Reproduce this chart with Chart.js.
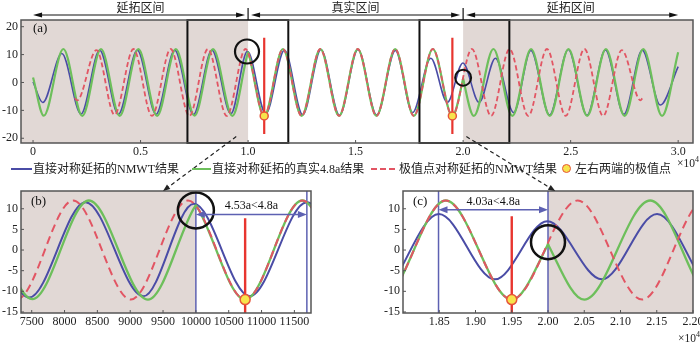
<!DOCTYPE html>
<html>
<head>
<meta charset="utf-8">
<script src="https://cdn.jsdelivr.net/npm/chart.js@4.4.1/dist/chart.umd.min.js"></script>
<style>
  html, body { margin: 0; padding: 0; background: #fff; }
  #wrap { position: relative; width: 700px; height: 346px; overflow: hidden;
          font-family: 'Liberation Serif', 'Noto Sans CJK SC', serif; color: #222; }
  #wrap canvas { position: absolute; left: 0; top: 0; }
  .lg { position: absolute; top: 161px; height: 16px; line-height: 16px; font-size: 12px; white-space: nowrap; }
  .sw { position: absolute; top: 168px; height: 2px; }
  .dot { position: absolute; top: 164px; left: 562px; width: 7px; height: 7px; border-radius: 50%;
         background: #f7e44c; border: 1.5px solid #e6533a; }
  .mult { position: absolute; font-size: 11.5px; line-height: 14px; white-space: nowrap; }
  .mult sup { font-size: 8px; vertical-align: 5px; line-height: 0; }
</style>
</head>
<body>
<div id="wrap">
  <canvas id="ca" width="700" height="346"></canvas>
  <canvas id="cb" width="700" height="346"></canvas>
  <canvas id="cc" width="700" height="346"></canvas>

  <div class="sw" style="left:11px;width:21px;background:#4a4ca6"></div>
  <div class="lg" style="left:33px">直接对称延拓的NMWT结果</div>
  <div class="sw" style="left:192px;width:19px;background:#6dbf5b"></div>
  <div class="lg" style="left:212px">直接对称延拓的真实4.8a结果</div>
  <div class="sw" style="left:371px;width:24px;background:repeating-linear-gradient(90deg,#e25563 0 6px,transparent 6px 9px)"></div>
  <div class="lg" style="left:399px">极值点对称延拓的NMWT结果</div>
  <div class="dot"></div>
  <div class="lg" style="left:575px">左右两端的极值点</div>

  <div class="mult" style="left:677px;top:156px">×10<sup>4</sup></div>
  <div class="mult" style="left:678px;top:331px">×10<sup>4</sup></div>
</div>

<script>
// ---- series (x in samples, y in amplitude) ----
// NMWT result of the directly mirrored signal
const blueX = [0, 450, 1340, 2230, 3100, 3970, 4850, 5720, 6590, 7460, 8320, 9200, 9970,
  10820, 11690, 12540, 13390, 14250, 15110, 15980, 16850, 17650, 18495, 19267, 19990,
  20743, 21504, 22350, 23150, 24020, 24890, 25760, 26620, 27480, 28330, 29170, 30000];
const blueY = [0.2, -7.2, 10.4, -11.3, 11.6, -11.4, 11.6, -11.4, 11.6, -11.5, 11.6, -11.2, 11.2,
  -11.2, 11.6, -11.6, 11.8, -11.8, 11.8, -11.7, 11.5, -10.8, 8.7, -7.1, 7.0,
  -7.1, 8.7, -10.8, 11.5, -11.7, 11.8, -11.8, 11.7, -11.4, 11.6, -8.1, 5.7];

// true 4.8a component, directly mirrored at both ends of the record
const greenX = [0, 500, 1410, 2290, 3160, 4030, 4900, 5770, 6640, 7510, 8370, 9270,
  9988, 10000, 10012, 10750, 11620, 12490, 13360, 14230, 15100, 15970, 16840, 17710, 18590, 19500,
  19988, 20000, 20012, 20500, 21410, 22290, 23160, 24030, 24900, 25770, 26640, 27510, 28380, 29250, 30000];
const greenY = [1.8, -11.9, 12, -12, 12, -12, 12, -12, 12, -11.9, 12, -12,
  10.6, 10.8, 10.6, -12, 12, -12, 12, -12, 12, -12, 12, -12, 12, -12,
  1.0, 1.5, 1.0, -12, 12, -12, 12, -12, 12, -12, 12, -12, 12, -12, 10.8];

// NMWT result of the signal mirrored about its end extrema
const redX = [1940, 2050, 2950, 3790, 4670, 5530, 6400, 7270, 8130, 9010, 9880,
  10750, 11620, 12490, 13360, 14230, 15100, 15970, 16840, 17710, 18590, 19500,
  20410, 21300, 22160, 23030, 23900, 24770, 25640, 26510, 27380, 28250, 28340];
const redY = [-5.6, -6.4, 11.6, -11.6, 12, -12, 12, -12, 12, -12, 12,
  -12, 12, -12, 12, -12, 12, -12, 12, -12, 12, -12,
  12, -12, 12, -12, 12, -12, 12, -12, 11.6, -6.4, -5.6];

// extrema at the left and right ends of the real interval
const extremaX = [10750, 19500];
const extremaY = [-12, -12];

// ---- axis ticks ----
const ticksA = [0, 5000, 10000, 15000, 20000, 25000, 30000];
const tickLabelsA = ['0', '0.5', '1.0', '1.5', '2.0', '2.5', '3.0'];
const ticksB = [7500, 8000, 8500, 9000, 9500, 10000, 10500, 11000, 11500];
const tickLabelsB = ['7500', '8000', '8500', '9000', '9500', '10000', '10500', '11000', '11500'];
const ticksC = [18500, 19000, 19500, 20000, 20500, 21000, 21500, 22000];
const tickLabelsC = ['1.85', '1.90', '1.95', '2.00', '2.05', '2.10', '2.15', '2.20'];
const yTicksA = [-20, -10, 0, 10, 20];
const yTicksBC = [-15, -10, -5, 0, 5, 10];

// interval annotation above panel (a)
const intervalEdges = [0, 10000, 20000, 30000];
const intervalNames = ['延拓区间', '真实区间', '延拓区间'];

// measured spans between the end extremum and the mirror point
const spanB = [10000, 11690];
const spanTextB = '4.53a<4.8a';
const spanC = [18490, 20000];
const spanTextC = '4.03a<4.8a';

// ---- styles ----
const SHADE = '#e1d8d5';
const C_BLUE = '#4a4ca6';
const C_GREEN = '#6dbf5b';
const C_RED = '#e25563';
const C_MARK = '#e8352f';
const C_GUIDE = '#5d61b2';
const FRAME = '#555';

Chart.defaults.font.family = "'Liberation Serif', 'Noto Sans CJK SC', serif";
Chart.defaults.font.size = 12;
Chart.defaults.color = '#222';

const panels = [
  { name: 'a', id: 'ca', xMin: -560, xMax: 30690, yMin: -21.7, yMax: 22.4,
    padding: { left: 0, right: 7, top: 20, bottom: 183 }, yWidth: 21,
    xTicks: ticksA, xLabels: tickLabelsA, yTicks: yTicksA,
    shade: [[null, 10000], [20000, null]],
    widths: { blue: 1.6, green: 2.2, red: 1.8, mark: 2.2 }, dash: [5, 3],
    markTop: 16, markBottom: -18.5, dotR: 4,
    circles: [[9950, 11.1, 12, 2.2], [20000, 1.7, 8, 2]],
    boxes: [[7180, 11870], [17970, 22150]],
    tag: '(a)', tagOff: [12, 9] },
  { name: 'b', id: 'cb', xMin: 7337, xMax: 11753, yMin: -15.25, yMax: 14.3,
    padding: { left: 0, right: 389, top: 191, bottom: 13 }, yWidth: 21,
    xTicks: ticksB, xLabels: tickLabelsB, yTicks: yTicksBC,
    shade: [[null, 10000]],
    widths: { blue: 2, green: 2.3, red: 2, mark: 2.4 }, dash: [8, 5],
    markTop: 7.7, markBottom: -17, dotR: 5,
    circles: [[10000, 9.6, 18, 2.5]],
    span: spanB, spanText: spanTextB, arrowY: 8.6, textY: 10.6,
    link: { from: [9450, -19.4], to: 9500 },
    tag: '(b)', tagOff: [10, 11] },
  { name: 'c', id: 'cc', xMin: 18000, xMax: 22000, yMin: -15.25, yMax: 14.3,
    padding: { left: 363, right: 7, top: 191, bottom: 13 }, yWidth: 40,
    xTicks: ticksC, xLabels: tickLabelsC, yTicks: yTicksBC,
    shade: [[20000, null]],
    widths: { blue: 2, green: 2.3, red: 2, mark: 2.4 }, dash: [8, 5],
    markTop: 8.2, markBottom: -17, dotR: 5,
    circles: [[20000, 1.9, 17, 2.5]],
    span: spanC, spanText: spanTextC, arrowY: 9.75, textY: 11.6,
    link: { from: [20150, -19.4], to: 20100 },
    tag: '(c)', tagOff: [10, 11] }
];

function pts(xs, ys) { return xs.map((x, i) => ({ x: x, y: ys[i] })); }

function buildDatasets(p) {
  const markers = [];
  extremaX.forEach(x => { markers.push({ x: x, y: p.markTop }, { x: x, y: p.markBottom }, { x: x, y: null }); });
  const curve = { pointRadius: 0, cubicInterpolationMode: 'monotone', fill: false };
  return [
    { label: '左右两端的极值点', data: pts(extremaX, extremaY), showLine: false,
      pointRadius: p.dotR, pointBackgroundColor: '#f7e44c', pointBorderColor: '#e6533a',
      pointBorderWidth: 1.5, order: 0 },
    { label: 'extrema', data: markers, borderColor: C_MARK, borderWidth: p.widths.mark,
      pointRadius: 0, tension: 0, spanGaps: false, order: 1 },
    Object.assign({ label: '极值点对称延拓的NMWT结果', data: pts(redX, redY), borderColor: C_RED,
      borderWidth: p.widths.red, borderDash: p.dash, order: 2 }, curve),
    Object.assign({ label: '直接对称延拓的真实4.8a结果', data: pts(greenX, greenY), borderColor: C_GREEN,
      borderWidth: p.widths.green, order: 3 }, curve),
    Object.assign({ label: '直接对称延拓的NMWT结果', data: pts(blueX, blueY), borderColor: C_BLUE,
      borderWidth: p.widths.blue, order: 4 }, curve)
  ];
}

function arrowHead(ctx, tx, ty, dx, dy, len, half) {
  const nx = -dy, ny = dx;
  ctx.beginPath();
  ctx.moveTo(tx, ty);
  ctx.lineTo(tx - dx * len + nx * half, ty - dy * len + ny * half);
  ctx.lineTo(tx - dx * len - nx * half, ty - dy * len - ny * half);
  ctx.closePath();
  ctx.fill();
}

function seg(ctx, x0, y0, x1, y1) {
  ctx.beginPath(); ctx.moveTo(x0, y0); ctx.lineTo(x1, y1); ctx.stroke();
}

let chartA = null;

function panelPlugin(p) {
  return {
    id: 'panel_' + p.name,
    beforeDatasetsDraw(chart) {
      const { ctx, chartArea: a, scales: { x, y } } = chart;
      ctx.save();
      ctx.fillStyle = SHADE;
      p.shade.forEach(([s, e]) => {
        const x0 = s === null ? a.left : x.getPixelForValue(s);
        const x1 = e === null ? a.right : x.getPixelForValue(e);
        ctx.fillRect(x0, a.top, x1 - x0, a.bottom - a.top);
      });
      if (p.span) {
        ctx.strokeStyle = C_GUIDE;
        ctx.lineWidth = 1.5;
        p.span.forEach(v => { const px = x.getPixelForValue(v); seg(ctx, px, a.top, px, a.bottom); });
      }
      ctx.restore();
    },
    afterDatasetsDraw(chart) {
      const { ctx, chartArea: a, scales: { x, y } } = chart;
      ctx.save();
      // zoom boxes
      if (p.boxes) {
        ctx.strokeStyle = '#111';
        ctx.lineWidth = 2;
        p.boxes.forEach(([s, e]) => {
          const x0 = x.getPixelForValue(s), x1 = x.getPixelForValue(e);
          ctx.strokeRect(x0, a.top, x1 - x0, a.bottom - a.top);
        });
      }
      // highlight rings
      ctx.strokeStyle = '#111';
      p.circles.forEach(([cx, cy, r, w]) => {
        ctx.lineWidth = w;
        ctx.beginPath();
        ctx.arc(x.getPixelForValue(cx), y.getPixelForValue(cy), r, 0, Math.PI * 2);
        ctx.stroke();
      });
      // span arrow with label
      if (p.span) {
        const x0 = x.getPixelForValue(p.span[0]), x1 = x.getPixelForValue(p.span[1]);
        const yy = y.getPixelForValue(p.arrowY);
        ctx.strokeStyle = C_GUIDE; ctx.fillStyle = C_GUIDE; ctx.lineWidth = 1.5;
        seg(ctx, x0 + 6, yy, x1 - 6, yy);
        arrowHead(ctx, x0, yy, -1, 0, 9, 3.5);
        arrowHead(ctx, x1, yy, 1, 0, 9, 3.5);
        ctx.fillStyle = '#111';
        ctx.font = "12px 'Liberation Serif', serif";
        ctx.textAlign = 'center'; ctx.textBaseline = 'middle';
        ctx.fillText(p.spanText, (x0 + x1) / 2, y.getPixelForValue(p.textY));
      }
      // frame
      ctx.strokeStyle = FRAME; ctx.lineWidth = 1.5;
      ctx.strokeRect(a.left, a.top, a.right - a.left, a.bottom - a.top);
      // inward tick marks
      ctx.lineWidth = 1;
      x.ticks.forEach(t => { const px = x.getPixelForValue(t.value); seg(ctx, px, a.bottom, px, a.bottom - 3); });
      y.ticks.forEach(t => { const py = y.getPixelForValue(t.value); seg(ctx, a.left, py, a.left + 3, py); });
      // panel tag
      ctx.fillStyle = '#111';
      ctx.font = "13px 'Liberation Serif', serif";
      ctx.textAlign = 'left'; ctx.textBaseline = 'middle';
      ctx.fillText(p.tag, a.left + p.tagOff[0], a.top + p.tagOff[1]);
      ctx.restore();
    },
    afterDraw(chart) {
      const { ctx, chartArea: a, scales: { x } } = chart;
      ctx.save();
      if (p.name === 'a') {
        // extension / real interval arrows across the top
        const px = intervalEdges.map(v => x.getPixelForValue(v));
        const ay = 15;
        ctx.strokeStyle = '#111'; ctx.fillStyle = '#111'; ctx.lineWidth = 1;
        for (let i = 0; i < intervalNames.length; i++) {
          const l = i === 0 ? px[i] : px[i] + 3;
          const r = i === intervalNames.length - 1 ? px[i + 1] : px[i + 1] - 3;
          seg(ctx, l + 4, ay, r - 4, ay);
          arrowHead(ctx, l, ay, -1, 0, 9, 2.6);
          arrowHead(ctx, r, ay, 1, 0, 9, 2.6);
          ctx.font = "12px 'Noto Sans CJK SC', sans-serif";
          ctx.textAlign = 'center'; ctx.textBaseline = 'middle';
          ctx.fillStyle = '#222';
          ctx.fillText(intervalNames[i], (px[i] + px[i + 1]) / 2, 7);
          ctx.fillStyle = '#111';
        }
        ctx.lineWidth = 1.2;
        [px[1], px[2]].forEach(v => seg(ctx, v, 8, v, a.top));
      }
      if (p.link && chartA) {
        // dashed pointer from the box in (a) to this panel
        const sx = chartA.scales.x.getPixelForValue(p.link.from[0]);
        const sy = chartA.scales.y.getPixelForValue(p.link.from[1]);
        const ex = x.getPixelForValue(p.link.to), ey = a.top;
        const len = Math.hypot(ex - sx, ey - sy), ux = (ex - sx) / len, uy = (ey - sy) / len;
        ctx.strokeStyle = '#222'; ctx.fillStyle = '#222'; ctx.lineWidth = 1.2;
        ctx.setLineDash([4, 3]);
        seg(ctx, sx, sy, ex - ux * 6, ey - uy * 6);
        ctx.setLineDash([]);
        arrowHead(ctx, ex, ey, ux, uy, 7, 2.8);
      }
      ctx.restore();
    }
  };
}

function makeChart(p) {
  return new Chart(document.getElementById(p.id), {
    type: 'line',
    data: { datasets: buildDatasets(p) },
    options: {
      responsive: false,
      animation: false,
      devicePixelRatio: 1,
      events: [],
      layout: { padding: p.padding },
      plugins: { legend: { display: false }, tooltip: { enabled: false } },
      scales: {
        x: {
          type: 'linear', min: p.xMin, max: p.xMax,
          grid: { display: false, drawTicks: false }, border: { display: false },
          ticks: { padding: 2, maxRotation: 0, minRotation: 0, autoSkip: false,
                   callback: (v, i) => p.xLabels[i] },
          afterBuildTicks: s => { s.ticks = p.xTicks.map(v => ({ value: v })); },
          afterFit: s => { s.height = 20; s.paddingLeft = 0; s.paddingRight = 0; }
        },
        y: {
          type: 'linear', min: p.yMin, max: p.yMax,
          grid: { display: false, drawTicks: false }, border: { display: false },
          ticks: { padding: 3, autoSkip: false, callback: v => String(v) },
          afterBuildTicks: s => { s.ticks = p.yTicks.map(v => ({ value: v })); },
          afterFit: s => { s.width = p.yWidth; s.paddingTop = 0; s.paddingBottom = 0; }
        }
      }
    },
    plugins: [panelPlugin(p)]
  });
}

chartA = makeChart(panels[0]);
makeChart(panels[1]);
makeChart(panels[2]);
</script>
</body>
</html>
